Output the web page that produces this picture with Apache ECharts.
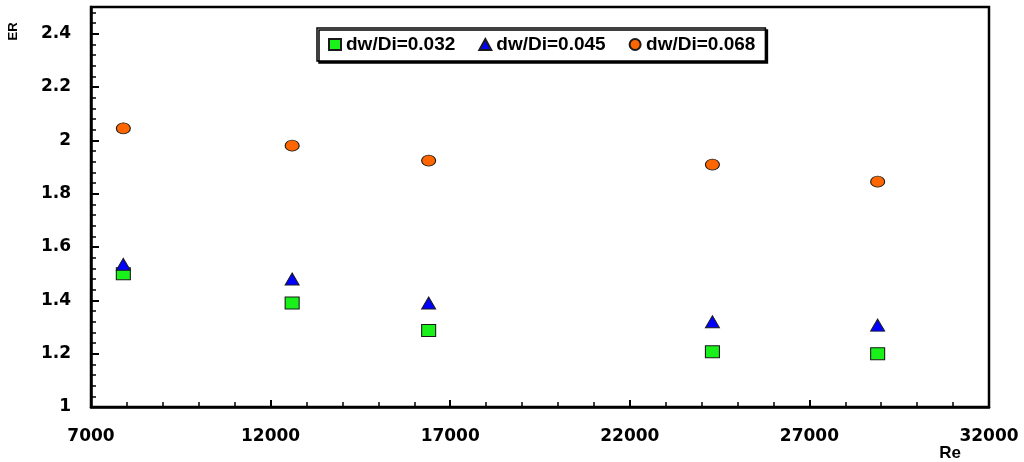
<!DOCTYPE html>
<html>
<head>
<meta charset="utf-8">
<script src="https://cdn.jsdelivr.net/npm/echarts@6/dist/echarts.min.js"></script>
<style>
  html, body { margin: 0; padding: 0; background: #fff; }
  #chart { width: 1024px; height: 462px; }
</style>
</head>
<body>
<div id="chart"></div>
<script>
// Reynolds numbers of the test runs
const reValues = [7900, 12600, 16400, 24300, 28900];

// Enhancement ratio ER for each wire-to-tube diameter ratio
const erDw032 = [1.50, 1.39, 1.287, 1.207, 1.20];
const erDw045 = [1.535, 1.48, 1.39, 1.32, 1.307];
const erDw068 = [2.045, 1.98, 1.924, 1.909, 1.845];

const seriesNames = ['dw/Di=0.032', 'dw/Di=0.045', 'dw/Di=0.068'];

const pair = (ys) => reValues.map((x, i) => [x, ys[i]]);

const axisFont = {
  fontFamily: 'DejaVu Sans',
  fontWeight: 'bold',
  fontSize: 17,
  color: '#000'
};

const chart = echarts.init(document.getElementById('chart'), null, { renderer: 'canvas' });

chart.setOption({
  animation: false,
  backgroundColor: '#fff',
  grid: {
    left: 91, right: 35, top: 7, bottom: 55,
    show: true,
    borderColor: '#000',
    borderWidth: 2.5
  },
  legend: {
    left: 317, top: 28,
    padding: [7, 10, 7, 11],
    itemGap: 23,
    itemWidth: 12,
    itemHeight: 11,
    borderColor: '#000',
    borderWidth: 1.5,
    backgroundColor: '#fff',
    shadowColor: '#000',
    shadowOffsetX: 2,
    shadowOffsetY: 2,
    shadowBlur: 0,
    textStyle: {
      fontFamily: 'Liberation Sans, Arial',
      fontWeight: 'bold',
      fontSize: 19,
      color: '#000'
    },
    data: seriesNames
  },
  xAxis: {
    type: 'value',
    min: 7000, max: 32000, interval: 5000,
    axisLine: { lineStyle: { color: '#000', width: 2.5 } },
    axisTick: { inside: true, length: 7, lineStyle: { color: '#000', width: 2 } },
    minorTick: { show: true, splitNumber: 5, length: 5, lineStyle: { color: '#000', width: 1.5 } },
    splitLine: { show: false },
    axisLabel: Object.assign({ margin: 21, formatter: (v) => String(v) }, axisFont)
  },
  yAxis: [
    {
      type: 'value',
      min: 1, max: 2.5, interval: 0.2,
      axisLine: { lineStyle: { color: '#000', width: 2.5 } },
      axisTick: { inside: true, length: 8, lineStyle: { color: '#000', width: 2 } },
      splitLine: { show: false },
      axisLabel: Object.assign({ margin: 20, showMaxLabel: false }, axisFont)
    },
    {
      // finer tick marks on the same left edge
      type: 'value',
      position: 'left',
      offset: 0,
      min: 1, max: 2.5, interval: 0.04,
      axisLine: { show: false },
      axisTick: { inside: true, length: 5, lineStyle: { color: '#000', width: 1.5 } },
      splitLine: { show: false },
      axisLabel: { show: false }
    }
  ],
  graphic: [
    {
      type: 'text',
      x: 13.5, y: 31.5,
      rotation: Math.PI / 2,
      style: {
        text: 'ER',
        fontFamily: 'Liberation Sans, Arial',
        fontWeight: 'bold',
        fontSize: 13,
        fill: '#000',
        align: 'center',
        verticalAlign: 'middle'
      }
    },
    {
      type: 'text',
      x: 950, y: 453,
      style: {
        text: 'Re',
        fontFamily: 'Liberation Sans, Arial',
        fontWeight: 'bold',
        fontSize: 17,
        fill: '#000',
        align: 'center',
        verticalAlign: 'middle'
      }
    }
  ],
  series: [
    {
      name: seriesNames[0],
      type: 'scatter',
      symbol: 'rect',
      symbolSize: [14, 12],
      itemStyle: { color: '#1AF01A', borderColor: '#1a1a1a', borderWidth: 1, opacity: 1 },
      data: pair(erDw032)
    },
    {
      name: seriesNames[1],
      type: 'scatter',
      symbol: 'triangle',
      symbolSize: [14, 12],
      itemStyle: { color: '#0000FF', borderColor: '#1a1a1a', borderWidth: 1, opacity: 1 },
      data: pair(erDw045)
    },
    {
      name: seriesNames[2],
      type: 'scatter',
      symbol: 'circle',
      symbolSize: [14, 11],
      itemStyle: { color: '#FF6600', borderColor: '#1a1a1a', borderWidth: 1, opacity: 1 },
      data: pair(erDw068)
    }
  ]
});
</script>
</body>
</html>
